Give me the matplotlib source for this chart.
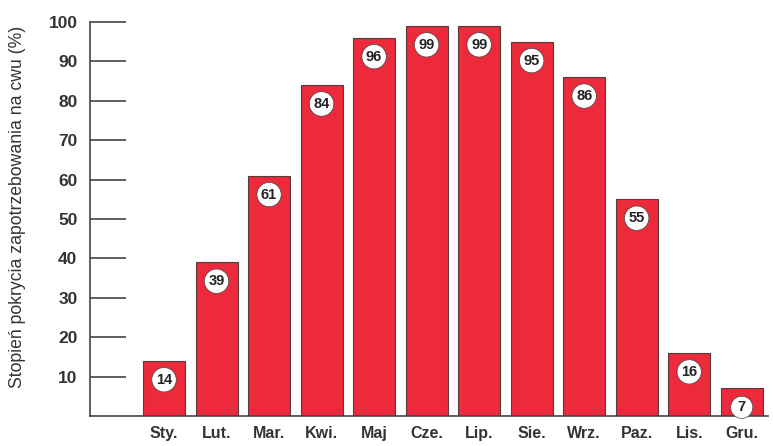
import matplotlib
matplotlib.use("Agg")
import matplotlib.pyplot as plt
import numpy as np

# miesiące i stopień pokrycia (%)
months = ["Sty.", "Lut.", "Mar.", "Kwi.", "Maj", "Cze.", "Lip.", "Sie.", "Wrz.", "Paz.", "Lis.", "Gru."]
values = [14, 39, 61, 84, 96, 99, 99, 95, 86, 55, 16, 7]
yticks = [10, 20, 30, 40, 50, 60, 70, 80, 90, 100]

plt.rcParams["font.family"] = ["Liberation Sans", "DejaVu Sans"]

fig = plt.figure(figsize=(7.73, 4.46), dpi=100)
ax = fig.add_axes([0.1164, 0.0673, 0.8771, 0.8834])

x = np.arange(len(months))
ax.bar(x, values, width=0.8, color="#ec2a3c", edgecolor="#5a3a3a", linewidth=0.8)

# etykiety w białych kółkach
for xi, v in zip(x, values):
    ax.text(xi, v - 4.8, str(v), ha="center", va="center", fontsize=10.5,
            fontweight="bold", color="#222222",
            bbox=dict(boxstyle="circle,pad=0.28", fc="white", ec="#444444", lw=0.5))

ax.set_xlim(-1.41, 11.5)
ax.set_ylim(0, 100)
ax.set_yticks(yticks)
ax.set_yticklabels([str(t) for t in yticks], fontsize=12.5, fontweight="bold", color="#333333")
ax.set_xticks(x)
ax.set_xticklabels(months, fontsize=11.5, fontweight="bold", color="#333333")

ax.tick_params(axis="y", direction="in", length=26, width=1.2, color="#444444", pad=9)
ax.tick_params(axis="x", length=0, pad=7)

for s in ["top", "right"]:
    ax.spines[s].set_visible(False)
for s in ["left", "bottom"]:
    ax.spines[s].set_color("#444444")
    ax.spines[s].set_linewidth(1.2)

ax.set_ylabel("Stopień pokrycia zapotrzebowania na cwu (%)", fontsize=12.7, color="#333333")
ax.yaxis.set_label_coords(-0.095, 0.53)

fig.savefig("out.png", dpi=100)
